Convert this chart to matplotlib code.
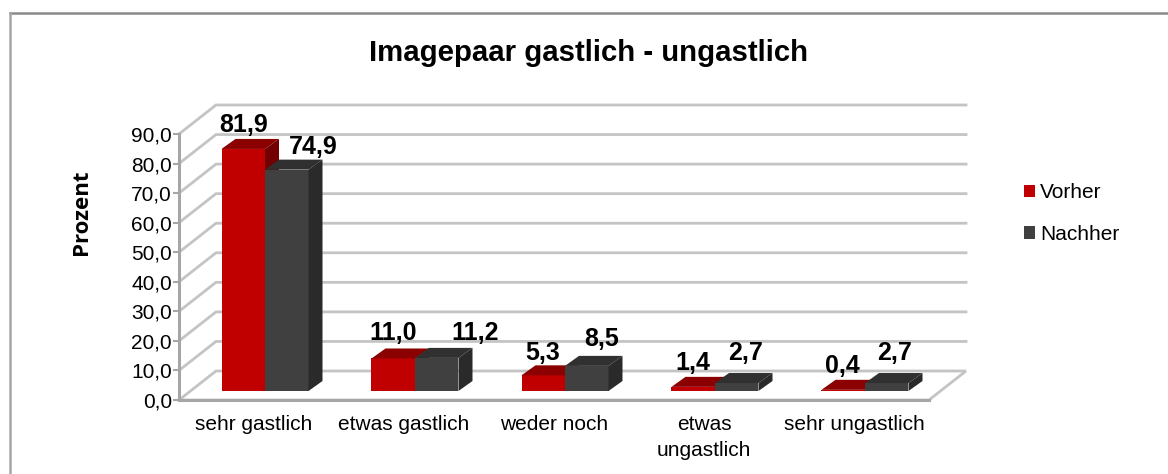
"""Imagepaar gastlich - ungastlich: fake 3D bar chart."""

import matplotlib

matplotlib.use("Agg")
import matplotlib.pyplot as plt
from matplotlib.lines import Line2D
from matplotlib.patches import Polygon, Rectangle

categories = ["sehr gastlich", "etwas gastlich", "weder noch", "etwas\nungastlich", "sehr ungastlich"]
vorher = [81.9, 11.0, 5.3, 1.4, 0.4]
nachher = [74.9, 11.2, 8.5, 2.7, 2.7]
value_labels_vorher = ["81,9", "11,0", "5,3", "1,4", "0,4"]
value_labels_nachher = ["74,9", "11,2", "8,5", "2,7", "2,7"]
y_ticks = [0, 10, 20, 30, 40, 50, 60, 70, 80, 90]
y_tick_labels = ["0,0", "10,0", "20,0", "30,0", "40,0", "50,0", "60,0", "70,0", "80,0", "90,0"]

# hand-placed data labels in the original, offsets in pixels
nudge_vorher = [(0, 0), (0, 1), (-1, -2), (0, 0), (-1, 0)]
nudge_nachher = [(26, -1), (38, 1), (15, 3), (9, 6), (8, 6)]

W, H = 1168, 474
RED = "#c00000"
RED_TOP = "#8b0000"
RED_SIDE = "#730000"
DARK = "#404040"
DARK_TOP = "#303030"
DARK_SIDE = "#2a2a2a"
GRID = "#c4c4c4"
AXIS = "#a6a6a6"

plt.rcParams["font.family"] = ["Liberation Sans", "DejaVu Sans"]

fig = plt.figure(figsize=(W / 100, H / 100), dpi=100)
fig.patch.set_facecolor("white")

# axes box is the front plane of the fake 3D chart
left, right, bottom, top = 179, 929, 400, 134
ax = fig.add_axes([left / W, 1 - bottom / H, (right - left) / W, (bottom - top) / H])
ax.set_xlim(-0.5, 4.5)
ax.set_ylim(0, 90)
ax.patch.set_visible(False)

px_x = 5 / (right - left)  # category units per pixel
px_y = 90 / (bottom - top)  # value units per pixel
wall_dx, wall_dy = 37 * px_x, 29 * px_y
bar_dx, bar_dy = 14 * px_x, 10 * px_y
base = 9 * px_y  # bars stand a bit behind the front edge
x_shift = 11 * px_x
bar_w = 43.5 * px_x

# floor and walls
ax.add_patch(Polygon(
    [(-0.5, 0), (4.5, 0), (4.5 + wall_dx, wall_dy), (-0.5 + wall_dx, wall_dy)],
    closed=True, fill=False, ec=GRID, lw=2, clip_on=False, zorder=1,
))
for v in y_ticks[1:]:
    ax.plot([-0.5, -0.5 + wall_dx, 4.5 + wall_dx], [v, v + wall_dy, v + wall_dy],
            color=GRID, lw=2, clip_on=False, zorder=1, solid_joinstyle="miter")


def draw_bar(x0, value, front, top_col, side_col):
    y0 = base
    y1 = base + value
    ax.add_patch(Rectangle((x0, y0), bar_w, value, fc=front, ec="none", zorder=3, clip_on=False))
    ax.add_patch(Polygon(
        [(x0, y1), (x0 + bar_w, y1), (x0 + bar_w + bar_dx, y1 + bar_dy), (x0 + bar_dx, y1 + bar_dy)],
        fc=top_col, ec="none", zorder=3, clip_on=False,
    ))
    ax.add_patch(Polygon(
        [(x0 + bar_w, y0), (x0 + bar_w + bar_dx, y0 + bar_dy), (x0 + bar_w + bar_dx, y1 + bar_dy), (x0 + bar_w, y1)],
        fc=side_col, ec="none", zorder=3, clip_on=False,
    ))


for i in range(len(categories)):
    c = i + x_shift
    draw_bar(c - bar_w, vorher[i], RED, RED_TOP, RED_SIDE)
    draw_bar(c, nachher[i], DARK, DARK_TOP, DARK_SIDE)
    nx, ny = nudge_vorher[i]
    ax.text(c - bar_w / 2 + nx * px_x, base + vorher[i] + bar_dy + 0.7 + ny * px_y, value_labels_vorher[i],
            ha="center", va="bottom", fontsize=18, fontweight="bold", color="black", zorder=5)
    nx, ny = nudge_nachher[i]
    ax.text(c + bar_w / 2 + nx * px_x, base + nachher[i] + bar_dy + 0.7 + ny * px_y, value_labels_nachher[i],
            ha="center", va="bottom", fontsize=18, fontweight="bold", color="black", zorder=5)

# real axes for ticks and spines
for side in ("top", "right"):
    ax.spines[side].set_visible(False)
for side in ("left", "bottom"):
    ax.spines[side].set_color(AXIS)
    ax.spines[side].set_linewidth(2.2)
    ax.spines[side].set_zorder(2)
ax.set_yticks(y_ticks)
ax.set_yticklabels(y_tick_labels, fontsize=15)
ax.set_xticks(range(len(categories)))
ax.set_xticklabels(categories, fontsize=15, linespacing=1.45)
ax.tick_params(axis="y", length=4, width=1.5, color=AXIS, pad=1)
ax.tick_params(axis="x", length=0, pad=11)
ax.set_ylabel("Prozent", fontsize=16, fontweight="bold", family="Open Sans")
ax.yaxis.set_label_coords((92 - left) / (right - left), (bottom - 212) / (bottom - top))

fig.text(589 / W, 1 - 53 / H, "Imagepaar gastlich - ungastlich", ha="center", va="center",
         fontsize=21.2, fontweight="bold")

# legend
handles = [Rectangle((0, 0), 1, 1, fc=RED), Rectangle((0, 0), 1, 1, fc=DARK)]
fig.legend(handles, ["Vorher", "Nachher"], loc="center left", bbox_to_anchor=(1024 / W, 1 - 213.5 / H),
           frameon=False, fontsize=15, handlelength=0.53, handleheight=0.53, handletextpad=0.24,
           labelspacing=1.09, borderpad=0, borderaxespad=0)

# chart frame, only top and left show in the crop
fig.add_artist(Line2D([9.5 / W, 1], [1 - 12.5 / H, 1 - 12.5 / H], color="#8a8a8a", lw=1.8))
fig.add_artist(Line2D([9.5 / W, 9.5 / W], [0, 1 - 12.5 / H], color="#a6a6a6", lw=1.8))

fig.savefig("out.png", dpi=100)
plt.close(fig)
